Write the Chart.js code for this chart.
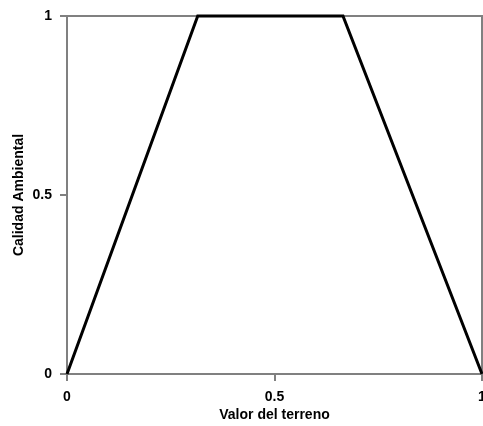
<!DOCTYPE html>
<html>
<head>
<meta charset="utf-8">
<script src="https://cdn.jsdelivr.net/npm/chart.js@4"></script>
<style>
  body { margin: 0; background: #fff; }
</style>
</head>
<body>
<canvas id="trapChart" width="483" height="426"></canvas>
<script>
// funcion de pertenencia trapezoidal
const valorTerreno = [0, 0.315, 0.665, 1];
const calidadAmbiental = [0, 1, 1, 0];
const xTicks = [0, 0.5, 1];
const yTicks = [0, 0.5, 1];

const axisGrey = '#808080';
const tickFont = { family: 'Arial, "Liberation Sans", sans-serif', size: 14, weight: 'bold' };
const titleFont = { family: 'Arial, "Liberation Sans", sans-serif', size: 14, weight: 'bold' };

// marco gris arriba y a la derecha, debajo de la linea
const framePlugin = {
  id: 'frame',
  beforeDatasetsDraw(chart) {
    const a = chart.chartArea;
    const ctx = chart.ctx;
    ctx.save();
    ctx.strokeStyle = axisGrey;
    ctx.lineWidth = 2;
    ctx.beginPath();
    ctx.moveTo(a.left, a.top);
    ctx.lineTo(a.right, a.top);
    ctx.lineTo(a.right, a.bottom);
    ctx.stroke();
    ctx.restore();
  }
};

function initChart() {
  const ctx = document.getElementById('trapChart');
  new Chart(ctx, {
    type: 'scatter',
    data: {
      datasets: [{
        data: valorTerreno.map((x, i) => ({ x: x, y: calidadAmbiental[i] })),
        showLine: true,
        borderColor: '#000',
        borderWidth: 3,
        pointRadius: 0,
        tension: 0,
        clip: false
      }]
    },
    options: {
      responsive: false,
      animation: false,
      layout: { padding: { top: 16, right: 1, left: 0, bottom: 0 } },
      plugins: { legend: { display: false }, tooltip: { enabled: false } },
      scales: {
        x: {
          type: 'linear',
          min: 0,
          max: 1,
          afterBuildTicks: s => { s.ticks = xTicks.map(v => ({ value: v })); },
          afterFit: s => { s.height = 52; s.paddingRight = 0; s.paddingLeft = 0; },
          ticks: { font: tickFont, color: '#000', padding: 8, maxRotation: 0, autoSkip: false,
                   callback: v => String(v) },
          grid: { drawOnChartArea: false, drawTicks: true, tickLength: 7, color: axisGrey, lineWidth: 2 },
          border: { display: true, color: axisGrey, width: 2 },
          title: { display: true, text: 'Valor del terreno', color: '#000', font: titleFont, padding: { top: 0, bottom: 2 } }
        },
        y: {
          type: 'linear',
          min: 0,
          max: 1,
          afterBuildTicks: s => { s.ticks = yTicks.map(v => ({ value: v })); },
          afterFit: s => { s.width = 67; s.paddingTop = 0; s.paddingBottom = 0; },
          ticks: { font: tickFont, color: '#000', padding: 8, callback: v => String(v) },
          grid: { drawOnChartArea: false, drawTicks: true, tickLength: 7, color: axisGrey, lineWidth: 2 },
          border: { display: true, color: axisGrey, width: 2 },
          title: { display: true, text: 'Calidad Ambiental', color: '#000', font: titleFont, padding: { top: 11, bottom: 0 } }
        }
      }
    },
    plugins: [framePlugin]
  });
}

document.addEventListener('DOMContentLoaded', initChart);
</script>
</body>
</html>
